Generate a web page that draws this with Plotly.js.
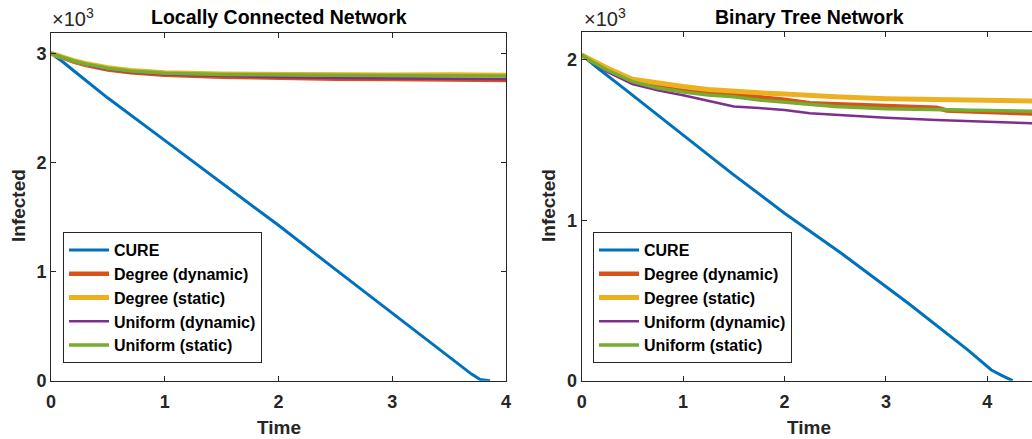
<!DOCTYPE html>
<html>
<head>
<meta charset="utf-8">
<script src="https://cdn.plot.ly/plotly-3.0.1.min.js"></script>
<style>
html,body{margin:0;padding:0;overflow:hidden;background:#fff;}
#chart{width:1060px;height:439px;}
</style>
</head>
<body>
<div id="chart"></div>
<script>
// ---------- data ----------
const seriesNames = ["CURE", "Degree (dynamic)", "Degree (static)", "Uniform (dynamic)", "Uniform (static)"];

// Locally Connected Network
const lcCureTime   = [0, 0.1, 0.2, 0.5, 1.0, 1.5, 2.0, 2.5, 3.0, 3.5, 3.7, 3.77, 3.82, 3.86];
const lcCure       = [3000, 2925, 2840, 2590, 2202, 1810, 1424, 1020, 616, 215, 58, 12, 2, 0];
const lcTime       = [0, 0.1, 0.2, 0.3, 0.4, 0.5, 0.7, 1.0, 1.5, 2.0, 2.5, 3.0, 3.5, 4.0];
const lcDegreeDyn  = [3000, 2958, 2924, 2895, 2870, 2852, 2826, 2803, 2786, 2775, 2768, 2764, 2760, 2755];
const lcDegreeStat = [3000, 2964, 2933, 2907, 2885, 2868, 2843, 2823, 2811, 2805, 2803, 2802, 2803, 2800];
const lcUniformDyn = [3000, 2958, 2925, 2897, 2872, 2854, 2828, 2806, 2790, 2780, 2774, 2769, 2766, 2762];
const lcUniformStat= [3000, 2962, 2930, 2903, 2880, 2863, 2838, 2818, 2806, 2800, 2798, 2796, 2797, 2793];

// Binary Tree Network
const btCureTime   = [0, 0.16, 0.4, 0.69, 1.02, 1.48, 2.0, 2.56, 3.22, 3.81, 4.04, 4.15, 4.21, 4.25];
const btCure       = [2031, 1948, 1830, 1688, 1522, 1293, 1044, 795, 483, 191, 67, 30, 12, 0];
const btTime       = [0, 0.1, 0.25, 0.5, 0.75, 1.0, 1.25, 1.5, 1.75, 2.0, 2.25, 2.5, 3.0, 3.5, 3.6, 4.0, 4.5];
const btDegreeDyn  = [2031, 1993, 1945, 1872, 1840, 1815, 1795, 1784, 1770, 1752, 1730, 1722, 1712, 1702, 1685, 1675, 1665];
const btDegreeStat = [2031, 1995, 1950, 1880, 1855, 1834, 1815, 1802, 1795, 1788, 1778, 1770, 1758, 1755, 1754, 1750, 1743];
const btUniformDyn = [2031, 1988, 1927, 1850, 1810, 1780, 1745, 1710, 1700, 1688, 1668, 1658, 1640, 1626, 1623, 1615, 1603];
const btUniformStat= [2031, 1990, 1937, 1865, 1825, 1800, 1782, 1770, 1750, 1735, 1720, 1710, 1695, 1690, 1689, 1684, 1680];

const lcYTicks = [0, 1000, 2000, 3000];
const lcYTickText = ["0", "1", "2", "3"];
const btYTicks = [0, 1000, 2000];
const btYTickText = ["0", "1", "2"];
const xTicks = [0, 1, 2, 3, 4];

// ---------- style ----------
const colors = ["#0072BD", "#D95319", "#EDB120", "#7E2F8E", "#77AC30"];
const widths = [3, 4.5, 5, 2.5, 3.5];
const FONT = "Liberation Sans, Arial, Helvetica, sans-serif";
const W = 1060, H = 439;
const px = v => v / W;
const py = v => (H - v) / H;

function mk(x, y, i, xa, ya, leg) {
  return {x: x, y: y, type: "scatter", mode: "lines", name: seriesNames[i],
          line: {color: colors[i], width: widths[i]},
          xaxis: xa, yaxis: ya, legend: leg, showlegend: true};
}

const traces = [
  mk(lcCureTime, lcCure, 0, "x", "y", "legend"),
  mk(lcTime, lcDegreeDyn, 1, "x", "y", "legend"),
  mk(lcTime, lcDegreeStat, 2, "x", "y", "legend"),
  mk(lcTime, lcUniformDyn, 3, "x", "y", "legend"),
  mk(lcTime, lcUniformStat, 4, "x", "y", "legend"),
  mk(btCureTime, btCure, 0, "x2", "y2", "legend2"),
  mk(btTime, btDegreeDyn, 1, "x2", "y2", "legend2"),
  mk(btTime, btDegreeStat, 2, "x2", "y2", "legend2"),
  mk(btTime, btUniformDyn, 3, "x2", "y2", "legend2"),
  mk(btTime, btUniformStat, 4, "x2", "y2", "legend2")
];

const tickFont = {family: FONT, size: 18, color: "#262626", weight: "bold"};
function axisBase() {
  return {showline: true, mirror: "ticks", ticks: "inside", ticklen: 5, tickwidth: 1,
          linecolor: "#262626", tickcolor: "#262626", linewidth: 1,
          showgrid: false, zeroline: false, tickfont: tickFont, fixedrange: true};
}

const legendStyle = (x) => ({x: x, y: py(232), xanchor: "left", yanchor: "top",
  xref: "paper", yref: "paper",
  bgcolor: "#ffffff", bordercolor: "#262626", borderwidth: 1,
  font: {family: FONT, size: 16, color: "#000", weight: "bold"},
  tracegroupgap: 0, itemwidth: 40});

const layout = {
  width: W, height: H,
  margin: {l: 0, r: 0, t: 0, b: 0},
  paper_bgcolor: "#fff", plot_bgcolor: "#fff",
  showlegend: true,
  xaxis: Object.assign(axisBase(), {domain: [px(51), px(506)], range: [0, 4], tickvals: xTicks, anchor: "y", ticklabelstandoff: 5}),
  yaxis: Object.assign(axisBase(), {domain: [py(380.7), py(32.7)], range: [0, 3189], tickvals: lcYTicks, ticktext: lcYTickText, anchor: "x"}),
  xaxis2: Object.assign(axisBase(), {domain: [px(581.7), px(1038)], range: [0, 4.5], tickvals: xTicks, anchor: "y2", ticklabelstandoff: 5}),
  yaxis2: Object.assign(axisBase(), {domain: [py(380.7), py(31.7)], range: [0, 2176], tickvals: btYTicks, ticktext: btYTickText, anchor: "x2"}),
  legend: legendStyle(px(63)),
  legend2: legendStyle(px(593)),
  annotations: [
    {text: "Locally Connected Network", x: px(278.5), y: py(17), xref: "paper", yref: "paper", showarrow: false, xanchor: "center", yanchor: "middle", font: {family: FONT, size: 19.5, color: "#000", weight: "bold"}},
    {text: "Binary Tree Network", x: px(809), y: py(17), xref: "paper", yref: "paper", showarrow: false, xanchor: "center", yanchor: "middle", font: {family: FONT, size: 19.5, color: "#000", weight: "bold"}},
    {text: "×10<sup>3</sup>", x: px(50), y: py(18), xref: "paper", yref: "paper", showarrow: false, xanchor: "left", yanchor: "middle", font: {family: FONT, size: 20, color: "#262626"}},
    {text: "×10<sup>3</sup>", x: px(582), y: py(18), xref: "paper", yref: "paper", showarrow: false, xanchor: "left", yanchor: "middle", font: {family: FONT, size: 20, color: "#262626"}},
    {text: "Infected", x: px(18), y: py(206), xref: "paper", yref: "paper", showarrow: false, textangle: -90, xanchor: "center", yanchor: "middle", font: {family: FONT, size: 19, color: "#262626", weight: "bold"}},
    {text: "Infected", x: px(548), y: py(206), xref: "paper", yref: "paper", showarrow: false, textangle: -90, xanchor: "center", yanchor: "middle", font: {family: FONT, size: 19, color: "#262626", weight: "bold"}},
    {text: "Time", x: px(278.5), y: py(427), xref: "paper", yref: "paper", showarrow: false, xanchor: "center", yanchor: "middle", font: {family: FONT, size: 19, color: "#262626", weight: "bold"}},
    {text: "Time", x: px(809), y: py(427), xref: "paper", yref: "paper", showarrow: false, xanchor: "center", yanchor: "middle", font: {family: FONT, size: 19, color: "#262626", weight: "bold"}}
  ]
};

Plotly.newPlot("chart", traces, layout, {staticPlot: true, displayModeBar: false});
</script>
</body>
</html>
